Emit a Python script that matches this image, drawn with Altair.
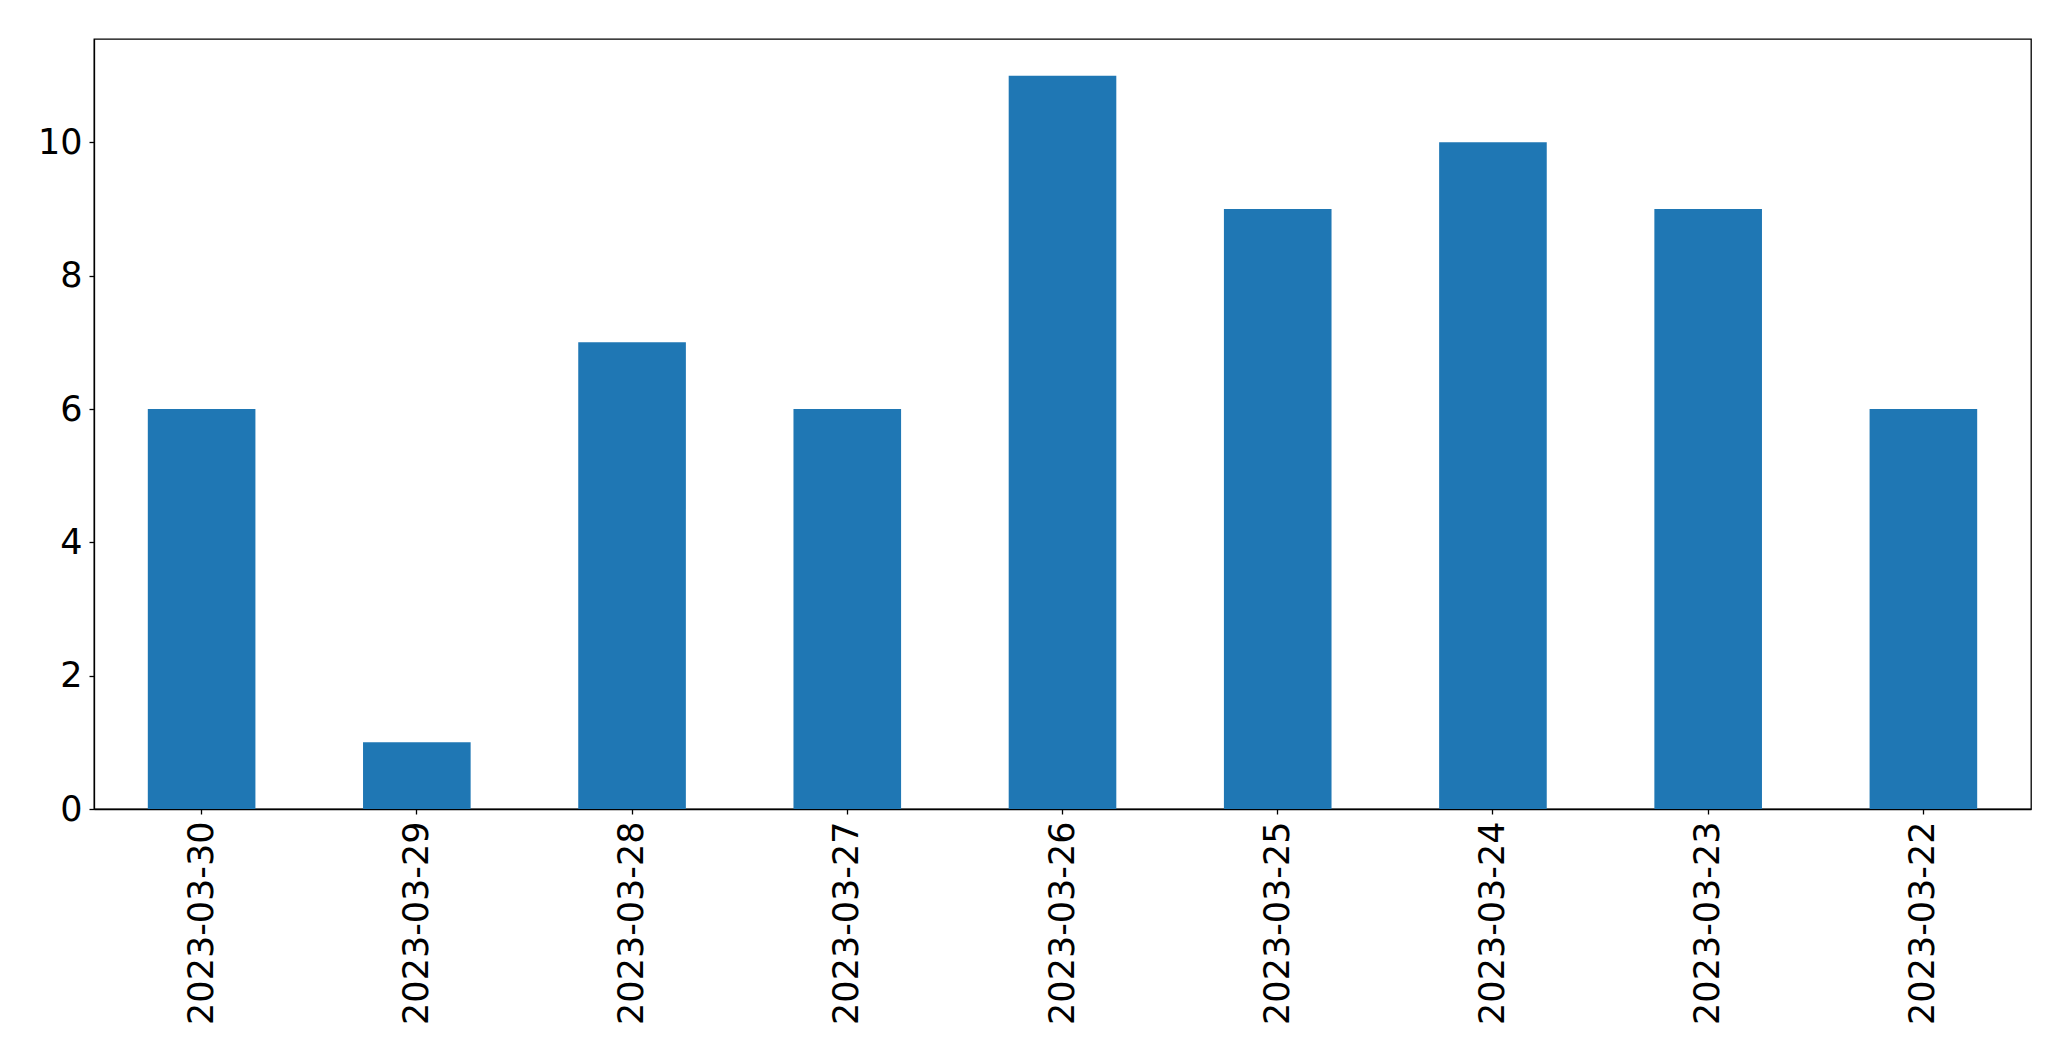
import altair as alt
import pandas as pd

dates = ["2023-03-30", "2023-03-29", "2023-03-28", "2023-03-27", "2023-03-26",
         "2023-03-25", "2023-03-24", "2023-03-23", "2023-03-22"]
counts = [6, 1, 7, 6, 11, 9, 10, 9, 6]

df = pd.DataFrame({"date": dates, "count": counts})

chart = alt.Chart(df).mark_bar(color="#1f77b4").encode(
    x=alt.X("date:N", sort=dates, title=None,
            scale=alt.Scale(paddingInner=0.5, paddingOuter=0.25),
            axis=alt.Axis(labelAngle=270, labelFontSize=35, labelFont="DejaVu Sans",
                          labelColor="black", tickColor="black", domainColor="black",
                          tickSize=5, labelPadding=7, domainWidth=1.3, tickWidth=1.3,
                          labelLimit=0)),
    y=alt.Y("count:Q", title=None,
            scale=alt.Scale(domain=[0, 11.55], nice=False),
            axis=alt.Axis(values=[0, 2, 4, 6, 8, 10], grid=False, labelFontSize=35,
                          labelFont="DejaVu Sans", labelColor="black", tickColor="black",
                          domainColor="black", tickSize=5, labelPadding=7,
                          domainWidth=1.3, tickWidth=1.3, labelLimit=0)),
).properties(
    width=1937, height=770,
    autosize=alt.AutoSizeParams(type="none"),
    padding={"left": 86, "top": 31, "right": 30, "bottom": 230},
).configure_view(stroke="black", strokeWidth=1.3)

chart.save("out.html", embed_options={"renderer": "svg", "actions": False})
